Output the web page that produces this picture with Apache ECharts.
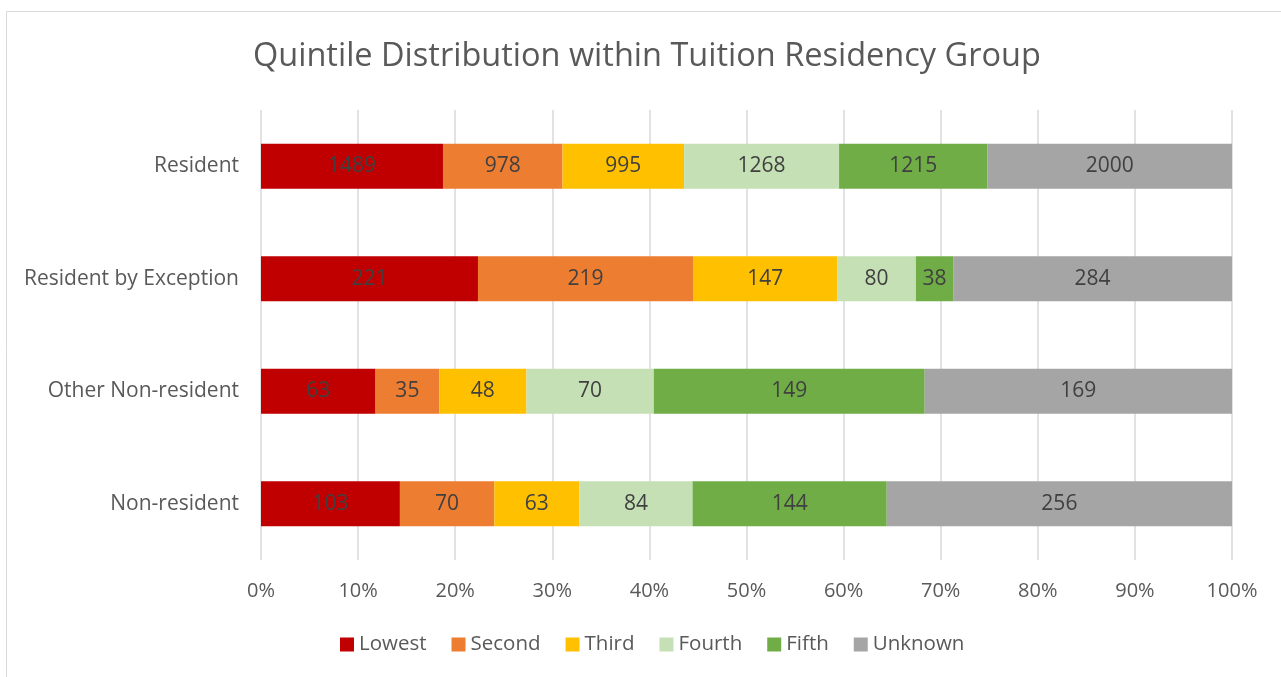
<!DOCTYPE html>
<html>
<head>
<meta charset="utf-8">
<script src="https://cdn.jsdelivr.net/npm/echarts@6/dist/echarts.min.js"></script>
<style>html,body{margin:0;padding:0;background:#fff;}#c{width:1281px;height:677px;}</style>
</head>
<body>
<div id="c"></div>
<script>
const categories = ['Resident', 'Resident by Exception', 'Other Non-resident', 'Non-resident'];
const seriesNames = ['Lowest', 'Second', 'Third', 'Fourth', 'Fifth', 'Unknown'];
const lowest  = [1489, 221, 63, 103];
const second  = [978, 219, 35, 70];
const third   = [995, 147, 48, 63];
const fourth  = [1268, 80, 70, 84];
const fifth   = [1215, 38, 149, 144];
const unknown = [2000, 284, 169, 256];
const xTickLabels = ['0%','10%','20%','30%','40%','50%','60%','70%','80%','90%','100%'];
const colors = ['#C00000', '#ED7D31', '#FFC000', '#C5E0B4', '#70AD47', '#A5A5A5'];

const all = [lowest, second, third, fourth, fifth, unknown];
const totals = categories.map((_, i) => all.reduce((s, a) => s + a[i], 0));

const chart = echarts.init(document.getElementById('c'));
const font = '"Open Sans", "Noto Sans", sans-serif';
chart.setOption({
  animation: false,
  textStyle: { fontFamily: font },
  graphic: [{
    type: 'rect', shape: { x: 6.5, y: 11.5, width: 1300, height: 700 },
    style: { fill: 'none', stroke: '#d9d9d9', lineWidth: 1 }, silent: true, z: -10
  }],
  title: {
    text: 'Quintile Distribution within Tuition Residency Group',
    left: 248, top: 35,
    textStyle: { fontFamily: font, fontSize: 32.5, fontWeight: 'normal', color: '#595959' }
  },
  legend: {
    bottom: 17, left: 335, itemWidth: 14, itemHeight: 14, itemGap: 25,
    icon: 'rect',
    textStyle: { fontFamily: font, fontSize: 20.5, color: '#595959' },
    data: seriesNames
  },
  grid: { left: 261, right: 49, top: 110, bottom: 117, containLabel: false },
  xAxis: {
    type: 'value', min: 0, max: 100, interval: 10,
    axisLine: { show: false }, axisTick: { show: false },
    splitLine: { show: true, lineStyle: { color: '#d9d9d9', width: 1.5 } },
    axisLabel: {
      fontFamily: font, fontSize: 20, color: '#595959', margin: 21,
      formatter: (v) => xTickLabels[Math.round(v / 10)]
    }
  },
  yAxis: {
    type: 'category', inverse: true, data: categories,
    axisLine: { show: false }, axisTick: { show: false },
    axisLabel: { fontFamily: font, fontSize: 21, color: '#595959', margin: 22 }
  },
  series: seriesNames.map((name, k) => ({
    name: name, type: 'bar', stack: 'total', barWidth: 45,
    itemStyle: { color: colors[k] },
    label: {
      show: true, position: 'inside', fontFamily: font, fontSize: 21, color: '#404040',
      formatter: (p) => String(all[k][p.dataIndex])
    },
    data: all[k].map((v, i) => v / totals[i] * 100)
  }))
});
</script>
</body>
</html>
